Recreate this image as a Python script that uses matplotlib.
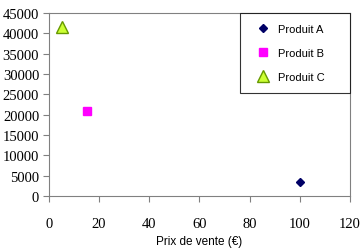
import matplotlib.pyplot as plt

# data
produits = ['Produit A', 'Produit B', 'Produit C']
prix = [100, 15, 5]
quantites = [3500, 21000, 41500]
marqueurs = ['D', 's', '^']
couleurs = ['#000066', '#FF00FF', '#CCFF33']
bords = ['#000066', '#FF00FF', '#669900']
tailles = [4.5, 6, 9]

plt.rcParams['font.family'] = ['Liberation Serif', 'DejaVu Serif']

fig = plt.figure(figsize=(3.6, 2.51), dpi=100)
ax = fig.add_axes([0.136, 0.215, 0.836, 0.729])

for nom, x, y, m, c, e, s in zip(produits, prix, quantites, marqueurs, couleurs, bords, tailles):
    ax.plot(x, y, linestyle='none', marker=m, markersize=s, color=c,
            markeredgecolor=e, markeredgewidth=1, label=nom)

ax.set_xlim(0, 120)
ax.set_ylim(0, 45000)
ax.set_xticks(range(0, 121, 20))
ax.set_yticks(range(0, 45001, 5000))

for sp in ax.spines.values():
    sp.set_color('#808080')
    sp.set_linewidth(0.8)
ax.tick_params(axis='x', direction='out', length=4, color='#808080', pad=11, labelsize=10.5)
ax.tick_params(axis='y', direction='out', length=4, color='#808080', pad=3, labelsize=10.5)

ax.set_xlabel('Prix de vente (€)', fontfamily=['Liberation Sans', 'DejaVu Sans'],
              fontsize=8.5, labelpad=4)

leg = ax.legend(loc='upper left', bbox_to_anchor=(0.635, 1.0, 0.365, 0.0), mode='expand',
                frameon=True, fancybox=False,
                prop={'family': 'Liberation Sans', 'size': 8}, labelspacing=1.25,
                borderpad=1.0, handletextpad=0.2, handlelength=2.2, borderaxespad=0)
leg.get_frame().set_edgecolor('black')
leg.get_frame().set_linewidth(0.8)

fig.savefig('out.png', dpi=100)
